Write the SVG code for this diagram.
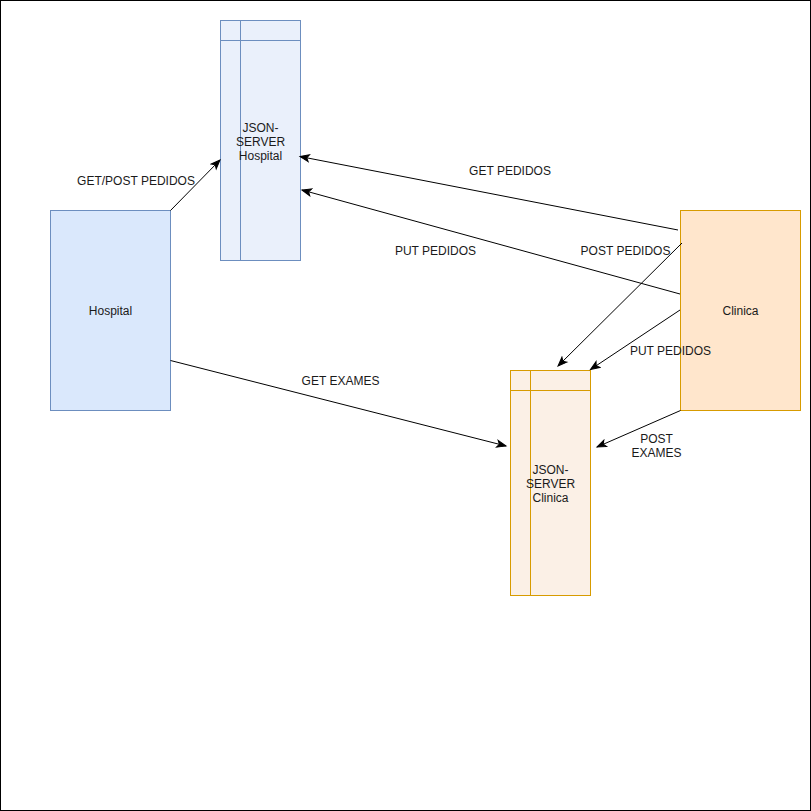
<svg xmlns="http://www.w3.org/2000/svg" width="811" height="811" viewBox="0 0 811 811">
<defs>
<marker id="arr" markerWidth="12" markerHeight="12" refX="10" refY="6" orient="auto" markerUnits="userSpaceOnUse">
<path d="M1,2.5 L10,6 L1,9.5 L3.2,6 Z" fill="#000" stroke="#000" stroke-width="1"/>
</marker>
</defs>
<style>
text{font-family:"Liberation Sans",Arial,sans-serif;font-size:12px;fill:#1a1a1a;text-anchor:middle}
.conn{fill:none;stroke:#000;stroke-width:1;marker-end:url(#arr)}
.blue{fill:#dae8fc;stroke:#6c8ebf;stroke-width:1}
.blueL{fill:#eaf0fb;stroke:#6c8ebf;stroke-width:1}
.orange{fill:#ffe6cc;stroke:#d79b00;stroke-width:1}
.orangeL{fill:#fbf0e6;stroke:#d79b00;stroke-width:1}
.lb{fill:none;stroke:#6c8ebf;stroke-width:1}
.lo{fill:none;stroke:#d79b00;stroke-width:1}
</style>
<rect x="0" y="0" width="811" height="811" fill="#fff"/>
<rect x="0.5" y="0.5" width="810" height="810" fill="none" stroke="#000"/>
<g id="hospital">
<rect class="blue" x="50.5" y="210.5" width="120" height="200"/>
<text x="110.5" y="315">Hospital</text>
</g>
<g id="json-server-hospital">
<rect class="blueL" x="220.5" y="20.5" width="80" height="240"/>
<line class="lb" x1="240.5" y1="20.5" x2="240.5" y2="260.5"/>
<line class="lb" x1="220.5" y1="40.5" x2="300.5" y2="40.5"/>
<text x="260.5" y="132">JSON-</text>
<text x="260.5" y="146">SERVER</text>
<text x="260.5" y="160">Hospital</text>
</g>
<g id="clinica">
<rect class="orange" x="680.5" y="210.5" width="120" height="200"/>
<text x="740.5" y="315">Clinica</text>
</g>
<g id="json-server-clinica">
<rect class="orangeL" x="510.5" y="370.5" width="80" height="225"/>
<line class="lo" x1="530.5" y1="370.5" x2="530.5" y2="595.5"/>
<line class="lo" x1="510.5" y1="390.5" x2="590.5" y2="390.5"/>
<text x="550.5" y="474">JSON-</text>
<text x="550.5" y="488">SERVER</text>
<text x="550.5" y="502">Clinica</text>
</g>
<g id="connectors">
<line class="conn" x1="170.5" y1="210.5" x2="220" y2="160"/>
<line class="conn" x1="678" y1="230" x2="300" y2="156.5"/>
<line class="conn" x1="680" y1="294" x2="302" y2="190"/>
<line class="conn" x1="682" y1="243" x2="558" y2="366"/>
<line class="conn" x1="680" y1="310" x2="590.5" y2="369.5"/>
<line class="conn" x1="680.5" y1="410.5" x2="597" y2="447"/>
<line class="conn" x1="170.5" y1="360.5" x2="506" y2="446"/>
</g>
<g id="labels">
<text x="136" y="185">GET/POST PEDIDOS</text>
<text x="510" y="175">GET PEDIDOS</text>
<text x="435.5" y="255">PUT PEDIDOS</text>
<text x="625.5" y="255">POST PEDIDOS</text>
<text x="670.5" y="355">PUT PEDIDOS</text>
<text x="656.5" y="443">POST</text>
<text x="656.5" y="457">EXAMES</text>
<text x="340.5" y="385">GET EXAMES</text>
</g>
</svg>
